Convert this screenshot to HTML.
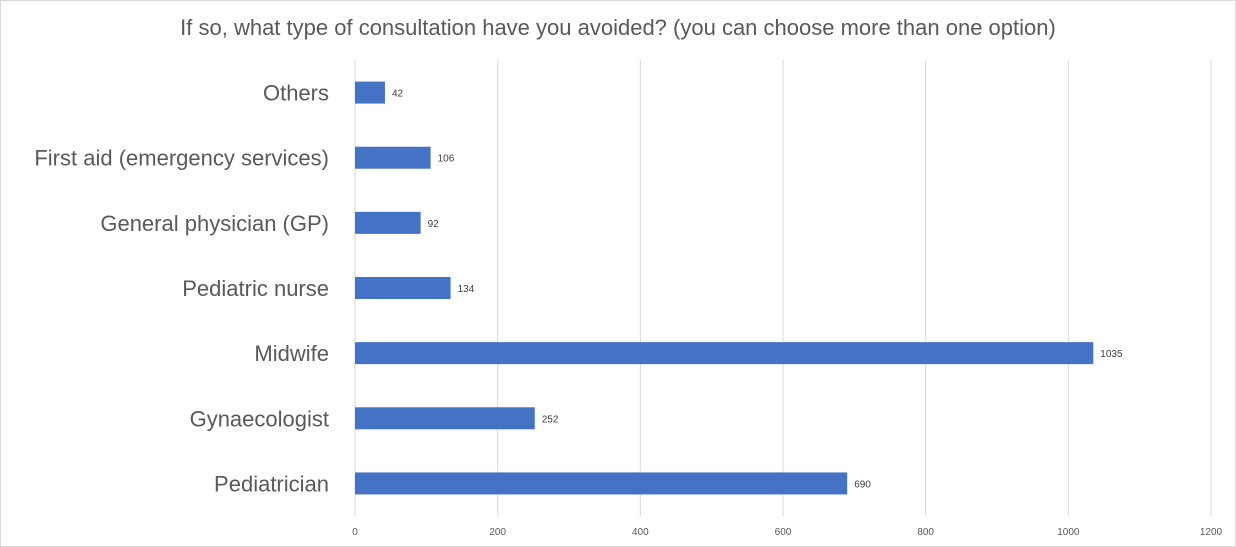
<!DOCTYPE html>
<html><head><meta charset="utf-8"><style>
body{margin:0;background:#fff;}
svg{display:block;font-family:"Liberation Sans",Calibri,sans-serif;}
</style></head><body>
<svg id="chart" width="1236" height="547" xmlns="http://www.w3.org/2000/svg">
<rect x="0.5" y="0.5" width="1235" height="546" fill="#fff" stroke="#d9d9d9"/>
<text x="618" y="35" text-anchor="middle" font-size="22" fill="#595959">If so, what type of consultation have you avoided? (you can choose more than one option)</text>
<g id="grid"></g><g id="bars"></g><g id="labels"></g>
</svg>
<script>
const categories=["Others","First aid (emergency services)","General physician (GP)","Pediatric nurse","Midwife","Gynaecologist","Pediatrician"];
const values=[42,106,92,134,1035,252,690];
const ticks=[0,200,400,600,800,1000,1200];
const NS="http://www.w3.org/2000/svg";
const x0=355,x1=1211,yTop=60,yBot=516;
const xs=v=>x0+(v-0)/(1200-0)*(x1-x0);
const band=(yBot-yTop)/categories.length;
const yc=i=>yTop+band*(i+0.5);
function mk(tag,attrs,parent,text){const e=document.createElementNS(NS,tag);for(const k in attrs)e.setAttribute(k,attrs[k]);if(text!==undefined)e.textContent=text;document.getElementById(parent).appendChild(e);return e;}
ticks.forEach(t=>{
  const l=mk('line',{x1:xs(t),x2:xs(t),y1:yTop,y2:yBot,stroke:'#d9d9d9','stroke-width':1},'grid');
  
  
  const tx=mk('text',{x:xs(t),y:535,'text-anchor':'middle','font-size':10,fill:'#595959'},'labels',String(t));
  
  
});
categories.forEach((c,i)=>{
  const v=values[i],bh=22;
  const r=mk('rect',{x:xs(0),y:yc(i)-bh/2,width:xs(v)-xs(0),height:bh,fill:'#4472c4'},'bars');
  
  
  const vl=mk('text',{x:xs(v)+7,y:yc(i)+4,'font-size':10,fill:'#404040'},'labels',String(v));
  
  
  const cl=mk('text',{x:329,y:yc(i)+8,'text-anchor':'end','font-size':22,fill:'#595959'},'labels',c);
  
  
});
</script>
</body></html>
